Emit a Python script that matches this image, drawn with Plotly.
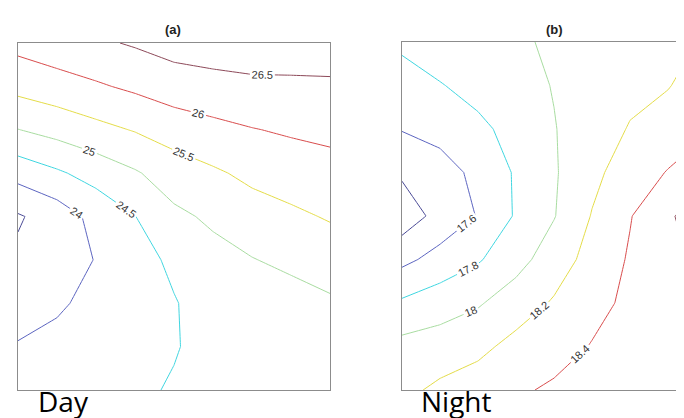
import plotly.graph_objects as go

W, H = 684, 418

# grid node indices (9 x 9 regular grid)
grid_x = [0, 1, 2, 3, 4, 5, 6, 7, 8]
grid_y = [0, 1, 2, 3, 4, 5, 6, 7, 8]

# (a) Day temperatures, rows from bottom (y=0) to top (y=8)
day_z = [
    [24.15, 24.22, 24.30, 24.42, 24.54, 24.62, 24.68, 24.68, 24.70],
    [24.03, 24.20, 24.25, 24.35, 24.47, 24.65, 24.72, 24.72, 24.78],
    [23.81, 23.90, 24.20, 24.30, 24.47, 24.72, 24.80, 24.80, 24.93],
    [23.59, 23.75, 24.02, 24.30, 24.60, 24.85, 24.98, 25.11, 25.24],
    [23.45, 23.73, 24.15, 24.49, 24.90, 25.08, 25.29, 25.41, 25.54],
    [24.18, 24.43, 24.69, 24.95, 25.24, 25.43, 25.61, 25.73, 25.82],
    [24.99, 25.17, 25.36, 25.53, 25.73, 25.87, 25.98, 26.06, 26.12],
    [25.65, 25.79, 25.94, 26.09, 26.25, 26.32, 26.39, 26.41, 26.43],
    [26.15, 26.30, 26.42, 26.55, 26.70, 26.77, 26.79, 26.76, 26.74],
]
day_levels = [23.5, 24.0, 24.5, 25.0, 25.5, 26.0, 26.5]

# (b) Night temperatures, rows from bottom (y=0) to top (y=8)
night_z = [
    [18.15, 18.24, 18.30, 18.37, 18.43, 18.50, 18.55, 18.57, 18.58],
    [18.06, 18.09, 18.15, 18.26, 18.32, 18.41, 18.53, 18.56, 18.58],
    [17.83, 17.91, 17.98, 18.10, 18.22, 18.34, 18.44, 18.55, 18.58],
    [17.55, 17.67, 17.78, 17.93, 18.10, 18.27, 18.42, 18.57, 18.63],
    [17.28, 17.47, 17.61, 17.82, 17.99, 18.21, 18.39, 18.56, 18.78],
    [17.43, 17.50, 17.66, 17.82, 17.98, 18.15, 18.30, 18.41, 18.51],
    [17.61, 17.68, 17.76, 17.86, 17.99, 18.12, 18.21, 18.29, 18.38],
    [17.71, 17.79, 17.86, 17.92, 18.01, 18.11, 18.16, 18.19, 18.30],
    [17.84, 17.90, 17.93, 17.95, 18.05, 18.10, 18.12, 18.14, 18.22],
]
night_levels = [17.4, 17.6, 17.8, 18.0, 18.2, 18.4, 18.6]

level_colors = ["#4a4a96", "#5b64c0", "#3fd6e0", "#a8dca0", "#e4dc48", "#d84c4c", "#8c4858"]

panel_titles = ["(a)", "(b)"]
panel_names = ["Day", "Night"]

fig = go.Figure()


def add_panel(z, levels, xa, ya):
    for lev, col in zip(levels, level_colors):
        fig.add_trace(go.Contour(
            x=grid_x, y=grid_y, z=z,
            xaxis=xa, yaxis=ya,
            contours=dict(start=lev, end=lev, size=1, coloring="none",
                          showlabels=True,
                          labelfont=dict(size=11, color="#333333", family="Liberation Sans"),
                          labelformat="~g"),
            line=dict(color=col, width=1, smoothing=0),
            showscale=False, hoverinfo="skip",
        ))


add_panel(day_z, day_levels, "x", "y")
add_panel(night_z, night_levels, "x2", "y2")

frame = dict(showgrid=False, zeroline=False, showticklabels=False, ticks="",
             showline=True, linecolor="#8c8c8c", linewidth=1)

fig.update_layout(
    width=W, height=H,
    margin=dict(l=0, r=0, t=0, b=0),
    paper_bgcolor="white", plot_bgcolor="white",
    showlegend=False,
    xaxis=dict(domain=[10 / W, 322 / W], range=[0, 8], mirror=True, **frame),
    yaxis=dict(domain=[1 - 382 / H, 1 - 35 / H], range=[0, 8], mirror=True, **frame),
    xaxis2=dict(domain=[394 / W, 1], range=[0, (684 - 394) / 38.0], mirror=True,
                anchor="y2", **frame),
    yaxis2=dict(domain=[1 - 382 / H, 1 - 34 / H], range=[0, 8], mirror=False,
                anchor="x2", **frame),
)

title_x = [165, 546]
for t, px in zip(panel_titles, title_x):
    fig.add_annotation(text="<b>" + t + "</b>", x=px / W, y=1 - 22 / H,
                       xref="paper", yref="paper", showarrow=False,
                       xanchor="center", yanchor="middle",
                       font=dict(size=13, color="#222222", family="Liberation Sans"))

name_x = [28, 411]
for t, px in zip(panel_names, name_x):
    fig.add_annotation(text=t, x=px / W, y=1 - 393 / H,
                       xref="paper", yref="paper", showarrow=False,
                       xanchor="left", yanchor="middle",
                       font=dict(size=28, color="#000000", family="Open Sans"))

fig.write_html("out.html")
